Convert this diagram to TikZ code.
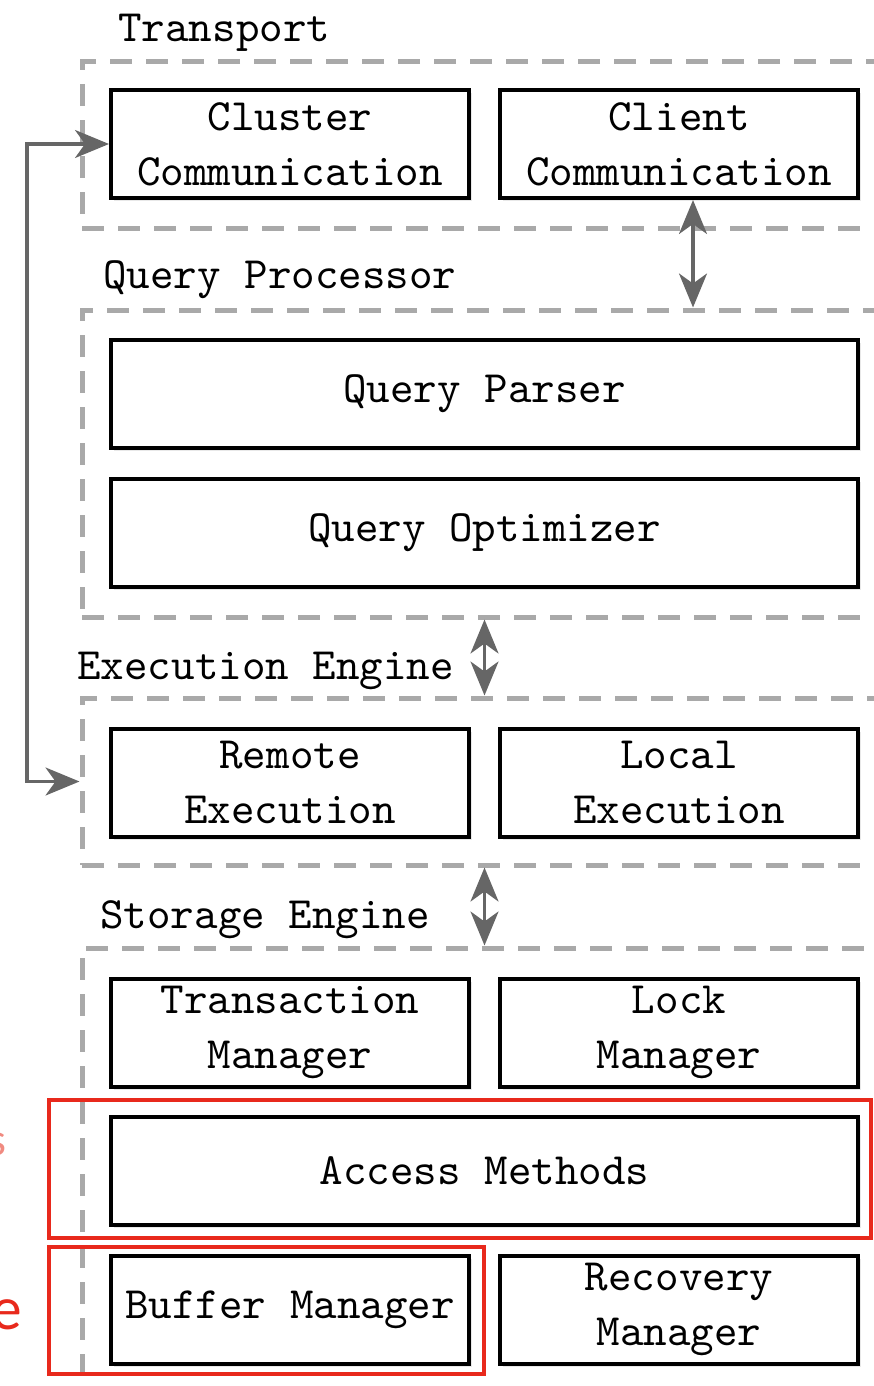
\documentclass[tikz,border=0pt]{standalone}
\usepackage{fontspec}
\setmonofont{lmmono10-regular.otf}
\newfontfamily\redfont{Lato}
\usetikzlibrary{arrows.meta,shadows}
\definecolor{dashgray}{HTML}{A9A9A9}
\definecolor{arrgray}{HTML}{666666}
\definecolor{hired}{HTML}{E8291C}
\definecolor{lightred}{HTML}{F08A80}
\begin{document}
\begin{tikzpicture}[x=0.5pt,y=-0.5pt,
  font=\fontsize{22.4}{27.5}\selectfont\ttfamily,
  comp/.style={draw=black, line width=2pt, fill=white, align=center, inner sep=0pt,
    minimum height=54pt,
    drop shadow={shadow xshift=1.5pt, shadow yshift=-1.5pt, opacity=0.18}},
  half/.style={comp, minimum width=179pt},
  full/.style={comp, minimum width=373.5pt},
  layer/.style={draw=dashgray, line width=2.5pt, dash pattern=on 11pt off 7pt,
    inner sep=0pt, minimum width=439pt},
  lbl/.style={anchor=base west, inner sep=0pt},
  link/.style={draw=arrgray, line width=1.6pt,
    {Stealth[length=17pt,width=14pt,inset=5pt]}-{Stealth[length=17pt,width=14pt,inset=5pt]}},
  hl/.style={draw=hired, line width=2pt, inner sep=0pt},
]
\useasboundingbox (0,0) rectangle (873,1386);

% layers (dashed containers)
\node[layer, minimum height=83pt]   (tr) at (521,145) {};
\node[layer, minimum height=153.5pt] (qp) at (521,463.5) {};
\node[layer, minimum height=83.5pt] (ee) at (521,781.5) {};
\node[layer, minimum height=251pt]  (se) at (521,1199) {};

% layer labels
\node[lbl] (tlab) at (118,42) {Transport};
\node[lbl] (qlab) at (103,288) {Query Processor};
\node[lbl] (elab) at (77,679) {Execution Engine};
\node[lbl] (slab) at (100,928) {Storage Engine};

% components
\node[half] (cluster) at (290,144) {Cluster\\Communication};
\node[half] (client) at (679,144) {Client\\Communication};
\node[full] (parser) at (484.5,394) {Query Parser};
\node[full] (optimizer) at (484.5,532.5) {Query Optimizer};
\node[half] (remote) at (290,782.5) {Remote\\Execution};
\node[half] (local) at (679,782.5) {Local\\Execution};
\node[half] (trans) at (290,1032.5) {Transaction\\Manager};
\node[half] (lock) at (679,1032.5) {Lock\\Manager};
\node[full] (access) at (484.5,1170.5) {Access Methods};
\node[half] (buffer) at (290,1309.5) {Buffer Manager};
\node[half] (recovery) at (679,1309.5) {Recovery\\Manager};

% highlight boxes
\node[hl, minimum width=411pt, minimum height=69pt] (hl1) at (460,1169) {};
\node[hl, minimum width=217.5pt, minimum height=63.5pt] (hl2) at (266.5,1310.5) {};

% cut-off red labels
\node[anchor=base east, inner sep=0pt, text=lightred, font=\redfont\fontsize{22}{22}\selectfont] (rs) at (7,1155) {s};
\node[anchor=base east, inner sep=0pt, text=hired, font=\redfont\fontsize{29}{29}\selectfont] (re) at (23,1329) {e};

% connectors
\coordinate (ax1) at (693,0);
\coordinate (bend) at (27,0);
\draw[link] (client.south -| ax1) -- (qp.north -| ax1);
\draw[link] (qp.south -| optimizer.south) -- (ee.north -| optimizer.south);
\draw[link] (ee.south -| optimizer.south) -- (se.north -| optimizer.south);
\draw[link] (cluster.west) -- (cluster.west -| bend) |- (ee.west);
\end{tikzpicture}
\end{document}
